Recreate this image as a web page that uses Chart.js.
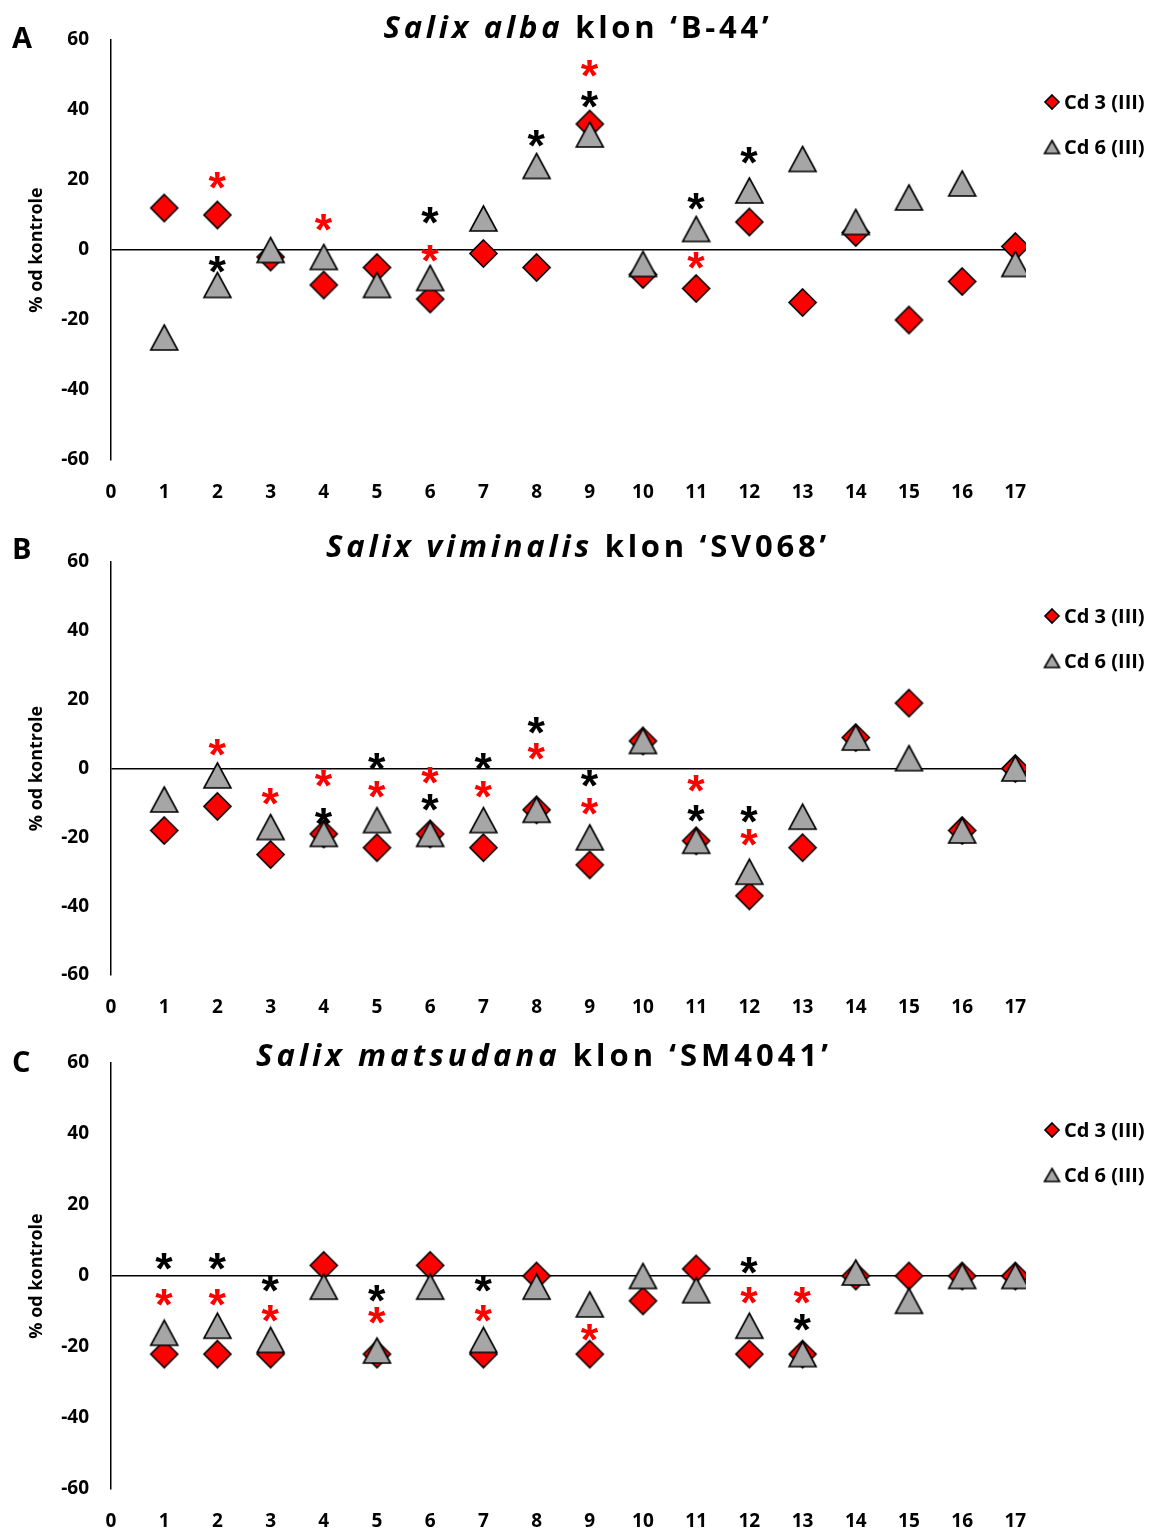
<!DOCTYPE html>
<html>
<head>
<meta charset="utf-8">
<script src="https://cdn.jsdelivr.net/npm/chart.js@4.4.1/dist/chart.umd.min.js"></script>
<style>
  html, body { margin: 0; padding: 0; background: #fff; }
  #wrap { position: relative; width: 1150px; height: 1530px; }
  canvas { position: absolute; left: 0; }
</style>
</head>
<body>
<div id="wrap">
  <canvas id="chartA" width="1150" height="512" style="top:0px"></canvas>
  <canvas id="chartB" width="1150" height="513" style="top:512px"></canvas>
  <canvas id="chartC" width="1150" height="505" style="top:1025px"></canvas>
</div>
<script>
// categories on the x axis and tick labels
const categories = [1, 2, 3, 4, 5, 6, 7, 8, 9, 10, 11, 12, 13, 14, 15, 16, 17];
const xTicks = [0, 1, 2, 3, 4, 5, 6, 7, 8, 9, 10, 11, 12, 13, 14, 15, 16, 17];
const yTicks = [-60, -40, -20, 0, 20, 40, 60];
const seriesNames = ["Cd 3 (III)", "Cd 6 (III)"];

// A - Salix alba 'B-44'
const albaCd3 = [12, 10, -2, -10, -5, -14, -1, -5, 36, -7, -11, 8, -15, 5, -20, -9, 1];
const albaCd6 = [-25, -10, 0, -2, -10, -8, 9, 24, 33, -4, 6, 17, 26, 8, 15, 19, -4];
const albaRedStars = [[2, 20], [4, 8], [6, -1], [9, 52], [11, -3]];
const albaBlackStars = [[2, -4], [6, 10], [8, 32], [9, 43], [11, 14], [12, 27]];

// B - Salix viminalis 'SV068'
const viminalisCd3 = [-18, -11, -25, -19, -23, -19, -23, -12, -28, 8, -21, -37, -23, 9, 19, -18, 0];
const viminalisCd6 = [-9, -2, -17, -19, -15, -19, -15, -12, -20, 8, -21, -30, -14, 9, 3, -18, 0];
const viminalisRedStars = [[2, 6], [3, -8], [4, -3], [5, -6], [6, -2], [7, -6], [8, 5], [9, -11], [11, -4.5], [12, -20]];
const viminalisBlackStars = [[4, -14], [5, 2], [6, -10], [7, 2], [8, 12.5], [9, -3], [11, -13], [12, -13.5]];

// C - Salix matsudana 'SM4041'
const matsudanaCd3 = [-22, -22, -22, 3, -22, 3, -22, 0, -22, -7, 2, -22, -22, 0, 0, 0, 0];
const matsudanaCd6 = [-16, -14, -18, -3, -21, -3, -18, -3, -8, 0, -4, -14, -22, 1, -7, 0, 0];
const matsudanaRedStars = [[1, -6], [2, -6], [3, -10.5], [5, -11], [7, -10.5], [9, -16], [12, -5.5], [13, -5.5]];
const matsudanaBlackStars = [[1, 4], [2, 4], [3, -2], [5, -5], [7, -2], [12, 3], [13, -13]];

const RED = "#FF0000";
const GREY = "#A6A6A6";
const FONT = "'Open Sans', 'Noto Sans', sans-serif";

function makeMarker(shape, w, h, fill) {
	const pad = 2;
	const c = document.createElement("canvas");
	c.width = w + pad * 2;
	c.height = h + pad * 2;
	const g = c.getContext("2d");
	g.beginPath();
	if (shape === "diamond") {
		g.moveTo(pad + w / 2, pad);
		g.lineTo(pad + w, pad + h / 2);
		g.lineTo(pad + w / 2, pad + h);
		g.lineTo(pad, pad + h / 2);
	} else {
		g.moveTo(pad + w / 2, pad);
		g.lineTo(pad + w, pad + h);
		g.lineTo(pad, pad + h);
	}
	g.closePath();
	g.fillStyle = fill;
	g.fill();
	g.lineWidth = 1.6;
	g.strokeStyle = "#000";
	g.stroke();
	return c;
}

const diamond = makeMarker("diamond", 27, 27, RED);
const triangle = makeMarker("triangle", 27, 25, GREY);
const diamondSmall = makeMarker("diamond", 14, 14, RED);
const triangleSmall = makeMarker("triangle", 15, 13, GREY);

const panels = [
	{
		id: "chartA", letter: "A", italic: "Salix alba", rest: " klon \u2018B-44\u2019",
		cd3: albaCd3, cd6: albaCd6, red: albaRedStars, black: albaBlackStars,
		height: 512, plotTop: 40, plotBottom: 460, titleX: 578, titleW: 389, titleBase: 38, letterBase: 48, legendY: [102, 147]
	},
	{
		id: "chartB", letter: "B", italic: "Salix viminalis", rest: " klon \u2018SV068\u2019",
		cd3: viminalisCd3, cd6: viminalisCd6, red: viminalisRedStars, black: viminalisBlackStars,
		height: 513, plotTop: 50, plotBottom: 463, titleX: 578, titleW: 504, titleBase: 45, letterBase: 47, legendY: [104, 149]
	},
	{
		id: "chartC", letter: "C", italic: "Salix matsudana", rest: " klon \u2018SM4041\u2019",
		cd3: matsudanaCd3, cd6: matsudanaCd6, red: matsudanaRedStars, black: matsudanaBlackStars,
		height: 505, plotTop: 38, plotBottom: 464, titleX: 544, titleW: 576, titleBase: 41, letterBase: 47, legendY: [105, 150]
	}
];

function drawStar(ctx, x, y, color) {
	ctx.font = "bold 100px 'Liberation Sans'";
	let m = ctx.measureText("*");
	const size = 100 * 17 / (m.actualBoundingBoxAscent + m.actualBoundingBoxDescent);
	ctx.font = "bold " + size + "px 'Liberation Sans'";
	m = ctx.measureText("*");
	ctx.textAlign = "left";
	ctx.textBaseline = "alphabetic";
	ctx.fillStyle = color;
	const x0 = x - (m.actualBoundingBoxRight - m.actualBoundingBoxLeft) / 2;
	const y0 = y + (m.actualBoundingBoxAscent - m.actualBoundingBoxDescent) / 2;
	ctx.fillText("*", x0, y0);
}

function panelPlugin(p) {
	return {
		id: "panelDecor",
		afterDatasetsDraw(chart) {
			const ctx = chart.ctx;
			const xs = chart.scales.x, ys = chart.scales.y;
			ctx.save();
			p.red.forEach(s => drawStar(ctx, xs.getPixelForValue(s[0]), ys.getPixelForValue(s[1]), RED));
			p.black.forEach(s => drawStar(ctx, xs.getPixelForValue(s[0]), ys.getPixelForValue(s[1]), "#000"));
			ctx.restore();
		},
		afterDraw(chart) {
			const ctx = chart.ctx;
			ctx.save();
			ctx.fillStyle = "#000";
			ctx.textBaseline = "alphabetic";
			ctx.textAlign = "left";

			// panel letter
			ctx.font = "bold 29px " + FONT;
			ctx.fillText(p.letter, 12, p.letterBase);

			// title: italic species + bold clone name, stretched to the reference width
			const fItal = "italic bold 31px " + FONT;
			const fBold = "bold 31px " + FONT;
			ctx.letterSpacing = "0px";
			ctx.font = fItal;
			const w1 = ctx.measureText(p.italic).width;
			ctx.font = fBold;
			const w2 = ctx.measureText(p.rest).width;
			const n = p.italic.length + p.rest.length;
			const sp = Math.max(0, (p.titleW - w1 - w2) / n);
			ctx.letterSpacing = sp + "px";
			let x = p.titleX - p.titleW / 2;
			ctx.font = fItal;
			ctx.fillText(p.italic, x, p.titleBase);
			x += ctx.measureText(p.italic).width;
			ctx.font = fBold;
			ctx.fillText(p.rest, x, p.titleBase);
			ctx.letterSpacing = "0px";

			// legend
			ctx.font = "bold 20px " + FONT;
			ctx.textBaseline = "middle";
			[diamondSmall, triangleSmall].forEach((img, i) => {
				const y = p.legendY[i];
				ctx.drawImage(img, 1052 - img.width / 2, y - img.height / 2);
				ctx.fillText(seriesNames[i], 1064, y + 1);
			});
			ctx.restore();
		}
	};
}

const tickFont = { family: FONT, weight: "bold", size: 19 };

panels.forEach(p => {
	new Chart(document.getElementById(p.id), {
		type: "scatter",
		data: {
			datasets: [
				{
					label: seriesNames[0],
					data: categories.map((c, i) => ({ x: c, y: p.cd3[i] })),
					pointStyle: diamond,
					order: 2
				},
				{
					label: seriesNames[1],
					data: categories.map((c, i) => ({ x: c, y: p.cd6[i] })),
					pointStyle: triangle,
					order: 1
				}
			]
		},
		options: {
			responsive: false,
			animation: false,
			devicePixelRatio: 1,
			layout: { padding: { top: p.plotTop, right: 124, left: 0, bottom: 0 } },
			plugins: {
				legend: { display: false },
				tooltip: { enabled: false }
			},
			scales: {
				x: {
					type: "linear",
					min: 0,
					max: 17.2,
					afterBuildTicks: s => { s.ticks = xTicks.map(v => ({ value: v })); },
					afterFit: s => { s.height = p.height - p.plotBottom; },
					grid: { display: false },
					border: { display: false },
					ticks: { autoSkip: false, maxRotation: 0, padding: 13, color: "#000", font: tickFont }
				},
				y: {
					min: -60,
					max: 60,
					afterBuildTicks: s => { s.ticks = yTicks.map(v => ({ value: v })); },
					afterFit: s => { s.width = 111; },
					grid: {
						color: c => (c.tick && c.tick.value === 0 ? "#000" : "rgba(0,0,0,0)"),
						lineWidth: 1.5,
						drawTicks: false
					},
					border: { display: true, color: "#000", width: 1.5 },
					ticks: { padding: 22, color: "#000", font: tickFont },
					title: {
						display: true,
						text: "% od kontrole",
						color: "#000",
						font: { family: FONT, weight: "bold", size: 18 },
						padding: { top: 26, bottom: 0 }
					}
				}
			}
		},
		plugins: [panelPlugin(p)]
	});
});
</script>
</body>
</html>
